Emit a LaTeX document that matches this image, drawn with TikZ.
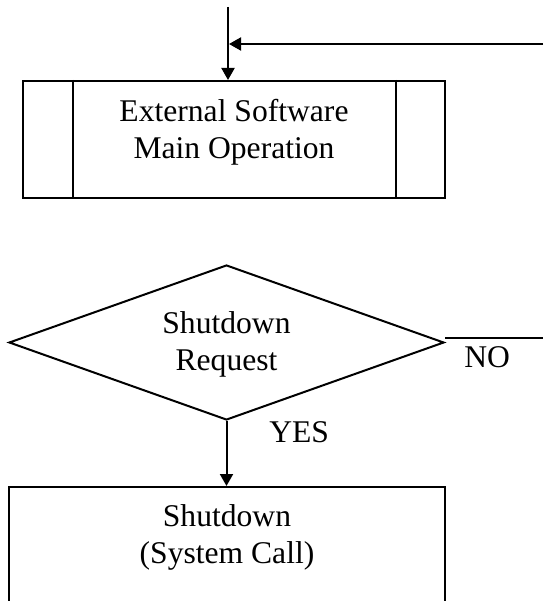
\documentclass[tikz,border=0pt]{standalone}
\usepackage{fontspec}
\setmainfont{Liberation Serif}
\usetikzlibrary{arrows.meta}
\usetikzlibrary{positioning,shapes,calc}

\begin{document}
\begin{tikzpicture}[
		x=1pt,
		y=-1pt,
		>={Triangle[length=12pt,width=13pt]},
		line width=2pt,
		every node/.style={
			font=\fontsize{31.6}{37}\selectfont
		},
		process/.style={
			draw,
			rectangle,
			align=center,
			inner sep=0pt,
			text depth=22pt,
			minimum height=117pt
		},
		decision/.style={
			draw,
			diamond,
			aspect=2.8,
			align=center,
			inner sep=0pt,
			text depth=2pt,
			minimum width=435pt,
			minimum height=155pt
		},
		flow/.style={
			->
		}
		]
		\clip (0,0) rectangle (543,601);
		\coordinate (entry) at (228,7);
		\coordinate (back) at (543,44);
		\coordinate (noend) at (543,338);
		\node[process,minimum width=422pt] (extsw) at (234,139.5) {External Software\\Main Operation};
		\draw ($(extsw.north west)+(51,0)$) -- ($(extsw.south west)+(51,0)$);
		\draw ($(extsw.north east)+(-50,0)$) -- ($(extsw.south east)+(-50,0)$);
		\node[decision] (req) at (226.5,342.5) {Shutdown\\Request};
		\node[process,minimum width=436pt] (halt) at (227,545.5) {Shutdown\\(System Call)};
		\node[anchor=base west] (nolbl) at (460,367) {NO};
		\node[anchor=base west] (yeslbl) at (265,442) {YES};
		\draw[flow] (entry) -- (entry |- extsw.north);
		\draw[flow,shorten >=1pt] (back) -- (back -| entry);
		\draw (noend -| req.east) -- (noend);
		\draw[flow] (req.south) -- (req.south |- halt.north);
		\end{tikzpicture}
\end{document}
